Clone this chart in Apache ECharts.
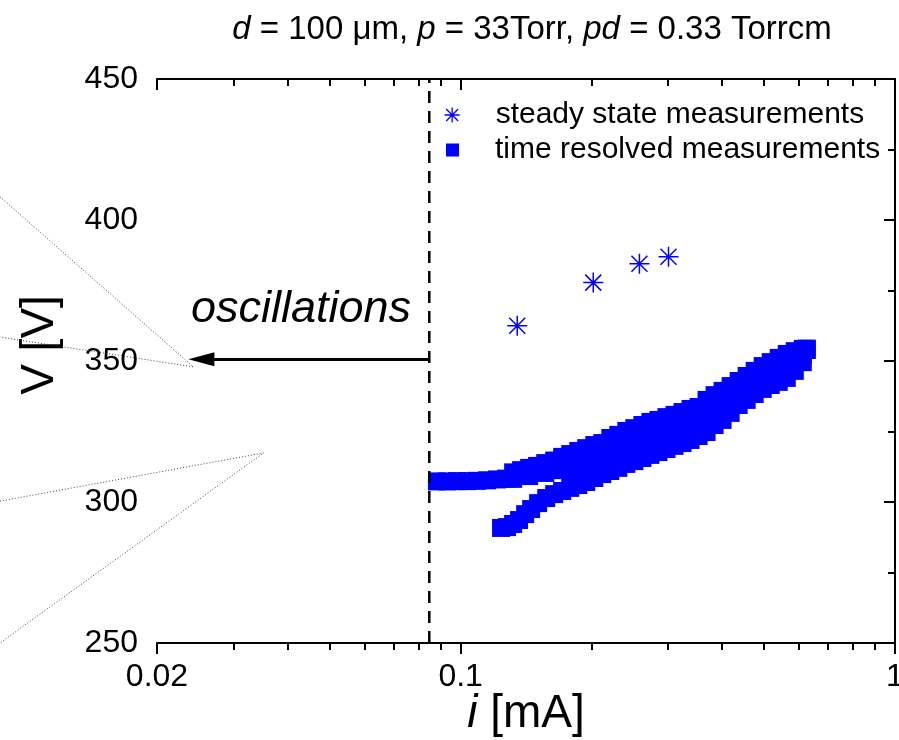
<!DOCTYPE html>
<html>
<head>
<meta charset="utf-8">
<script src="https://cdn.jsdelivr.net/npm/echarts@6/dist/echarts.min.js"></script>
<style>
html,body{margin:0;padding:0;background:#fff;}
#chart{width:899px;height:740px;}
</style>
</head>
<body>
<div id="chart"></div>
<script>
// ---------------- data ----------------
var xMajorTicks = [0.02, 0.1, 1];
var xMinorTicks = [0.03, 0.04, 0.05, 0.06, 0.07, 0.08, 0.09, 0.2, 0.3, 0.4, 0.5, 0.6, 0.7, 0.8, 0.9];
var yMin = 250, yMax = 450, yStep = 50;

var steadyCurrent = [0.135, 0.202, 0.258, 0.301];
var steadyVoltage = [362.5, 377.8, 384.5, 387.0];

// time resolved measurements (dense cloud, read as three tracks)
var trUpper = [
  [0.0882,307.3],[0.0930,307.3],[0.0981,307.4],[0.1034,307.4],[0.1091,307.5],[0.1151,307.7],
  [0.1213,308.0],[0.1273,308.3],[0.1321,310.5],[0.1378,311.3],[0.1438,312.1],[0.1500,312.8],
  [0.1566,313.8],[0.1642,314.7],[0.1713,316.0],[0.1788,317.0],[0.1866,318.1],[0.1946,319.1],
  [0.2031,320.2],[0.2119,320.9],[0.2211,322.7],[0.2307,323.8],[0.2407,325.2],[0.2512,326.2],
  [0.2621,327.3],[0.2735,328.4],[0.2854,329.1],[0.2978,330.1],[0.3107,330.9],[0.3242,331.9],
  [0.3383,333.0],[0.3530,333.7],[0.3683,336.2],[0.3843,337.9],[0.4009,339.4],[0.4184,341.1],
  [0.4365,342.9],[0.4555,344.7],[0.4753,346.5],[0.4959,348.2],[0.5175,349.6],[0.5399,351.1],
  [0.5634,352.5],[0.5879,353.5],[0.6133,354.3],[0.6265,354.4]
];
var trMiddle = [
  [0.1321,308.2],[0.1438,309.2],[0.1566,310.3],[0.1713,311.3],[0.1866,312.1],[0.2031,314.4],
  [0.2211,316.8],[0.2407,319.3],[0.2621,321.6],[0.2854,323.4],[0.3107,325.3],[0.3383,327.5],
  [0.3683,330.5],[0.4009,334.2],[0.4365,338.6],[0.4753,342.4],[0.5175,345.6],[0.5634,348.2],
  [0.6133,352.0]
];
var trLower = [
  [0.1239,290.8],[0.1279,291.1],[0.1321,292.2],[0.1363,293.6],[0.1408,295.7],[0.1453,297.5],
  [0.1508,299.6],[0.1574,301.4],[0.1642,302.8],[0.1713,303.9],[0.1788,305.0],[0.1866,306.0],
  [0.1946,307.1],[0.2031,308.5],[0.2119,309.9],[0.2211,311.0],[0.2307,312.1],[0.2407,313.5],
  [0.2512,314.5],[0.2621,315.6],[0.2735,316.7],[0.2854,317.7],[0.2978,318.8],[0.3107,319.9],
  [0.3242,320.9],[0.3383,322.0],[0.3530,323.4],[0.3683,324.8],[0.3843,327.3],[0.4009,329.1],
  [0.4184,331.6],[0.4365,334.4],[0.4555,336.2],[0.4753,338.3],[0.4959,340.1],[0.5175,341.5],
  [0.5399,342.6],[0.5634,344.0],[0.5879,346.5],[0.6133,349.6],[0.6265,353.9]
];

var oscillationLimit = 0.0847;   // dashed vertical line (mA)
var arrowVoltage = 350.6;
var arrowEnd = 0.0253;

// thin dotted pointer lines (leftovers of the original figure)
var pointerA = [[0.0087,408.2],[0.02426,347.9],[0.0087,358.5]];
var pointerB = [[0.0087,300.3],[0.03518,317.4],[0.0087,250.0]];

var titleText = '{i|d} = 100 \u03bcm, {i|p} = 33Torr, {i|pd} = 0.33 Torrcm';
var legendNames = ['steady state measurements', 'time resolved measurements'];

// ---------------- chart ----------------
var FONT = '"Liberation Sans", Arial, Helvetica, sans-serif';
var BLUE = '#0000ff';
var ASTER = 'path://M10,0L10,20M0,10L20,10M2,2L18,18M18,2L2,18';
var SQUARE = 'path://M0,0L10,0L10,10L0,10Z';
var logMin = Math.log10(xMajorTicks[0]), logMax = Math.log10(xMajorTicks[xMajorTicks.length - 1]);
var minorLog = xMinorTicks.map(function (v) { return Math.log10(v); });
var toLog = function (p) { return [Math.log10(p[0]), p[1]]; };
var trData = trUpper.concat(trMiddle, trLower);
var steadyData = steadyCurrent.map(function (c, k) { return [c, steadyVoltage[k]]; });

var chart = echarts.init(document.getElementById('chart'), null, {renderer: 'canvas'});
var grid = {left: 157, right: 4, top: 79, bottom: 97, containLabel: false, outerBoundsMode: 'none'};
var lineSty = {color: '#000', width: 2};
var legendText = {fontSize: 30, color: '#000', fontFamily: FONT, lineHeight: 30, padding: [0, 0, 0, 31]};

var baseGraphic = [
  {id: 'title', type: 'text', x: 532, y: 30, silent: true,
   style: {text: titleText, fill: '#000', font: '33px ' + FONT, align: 'center', verticalAlign: 'middle',
           rich: {i: {fontStyle: 'italic', fontSize: 33, fontFamily: FONT, fill: '#000'}}}},
  {id: 'osc', type: 'text', x: 301, y: 309, silent: true,
   style: {text: 'oscillations', fill: '#000', font: 'italic 45px ' + FONT, align: 'center', verticalAlign: 'middle'}}
];

chart.setOption({
  animation: false,
  backgroundColor: '#fff',
  textStyle: {fontFamily: FONT},
  grid: grid,
  legend: [
    {
      orient: 'vertical', left: 444, top: 100, padding: 0, itemWidth: 15, itemHeight: 15,
      textStyle: legendText,
      data: [{name: legendNames[0], icon: ASTER,
              itemStyle: {color: 'rgba(0,0,0,0)', borderColor: BLUE, borderWidth: 1.3, opacity: 1}}],
      selectedMode: false
    },
    {
      orient: 'vertical', left: 446, top: 135, padding: 0, itemWidth: 13, itemHeight: 13,
      textStyle: legendText,
      data: [{name: legendNames[1], icon: SQUARE, itemStyle: {color: BLUE, opacity: 1}}],
      selectedMode: false
    }
  ],
  xAxis: [
    { // data axis, bottom
      type: 'log', logBase: 10, min: xMajorTicks[0], max: xMajorTicks[2], position: 'bottom',
      name: '{it|i} [mA]', nameLocation: 'middle', nameGap: 48, nameMoveOverlap: false,
      nameTextStyle: {fontSize: 46, color: '#000', fontFamily: FONT, rich: {it: {fontSize: 46, fontStyle: 'italic', fontFamily: FONT, color: '#000'}}},
      axisLine: {show: true, lineStyle: lineSty},
      axisTick: {show: true, length: 11, lineStyle: lineSty},
      axisLabel: {fontSize: 32, color: '#000', margin: 18, fontFamily: FONT, hideOverlap: false,
                  formatter: function (v) { return String(+Number(v).toPrecision(3)); }},
      splitLine: {show: false}
    },
    { // minor ticks bottom (log10 space helper)
      type: 'value', min: logMin, max: logMax, position: 'bottom',
      axisLine: {show: false}, axisLabel: {show: false}, splitLine: {show: false},
      axisTick: {show: true, length: 7, customValues: minorLog, lineStyle: lineSty}
    },
    { // top mirror majors
      type: 'log', logBase: 10, min: xMajorTicks[0], max: xMajorTicks[2], position: 'top',
      axisLine: {show: true, lineStyle: lineSty}, axisLabel: {show: false}, splitLine: {show: false},
      axisTick: {show: true, inside: true, length: 11, lineStyle: lineSty}
    },
    { // top mirror minors
      type: 'value', min: logMin, max: logMax, position: 'top',
      axisLine: {show: false}, axisLabel: {show: false}, splitLine: {show: false},
      axisTick: {show: true, inside: true, length: 7, customValues: minorLog, lineStyle: lineSty}
    }
  ],
  yAxis: [
    {
      type: 'value', min: yMin, max: yMax, interval: yStep, position: 'left',
      name: 'V [V]', nameLocation: 'middle', nameGap: 94, nameRotate: 90, nameMoveOverlap: false,
      nameTextStyle: {fontSize: 46, color: '#000', fontFamily: FONT, padding: [0, 0, 0, 32]},
      axisLine: {show: true, lineStyle: lineSty},
      axisTick: {show: true, length: 11, lineStyle: lineSty},
      minorTick: {show: true, splitNumber: 2, length: 7, lineStyle: lineSty},
      axisLabel: {fontSize: 32, color: '#000', margin: 19, fontFamily: FONT},
      splitLine: {show: false}
    },
    {
      type: 'value', min: yMin, max: yMax, interval: yStep, position: 'right',
      axisLine: {show: true, lineStyle: lineSty},
      axisTick: {show: true, inside: true, length: 11, lineStyle: lineSty},
      minorTick: {show: true, splitNumber: 2, length: 7, lineStyle: lineSty},
      axisLabel: {show: false}, splitLine: {show: false}
    }
  ],
  graphic: baseGraphic,
  series: [
    {
      name: 'limit', type: 'line', symbol: 'none', silent: true,
      data: [[oscillationLimit, yMin], [oscillationLimit, yMax]],
      lineStyle: {color: '#000', width: 2.5, type: [12, 8]}, z: 3
    },
    {
      name: 'arrow', type: 'line', symbol: 'none', silent: true, data: [],
      markLine: {
        silent: true, symbol: ['none', 'triangle'], symbolSize: [14, 26],
        label: {show: false},
        lineStyle: {color: '#000', width: 3, type: 'solid'},
        data: [[{coord: [oscillationLimit, arrowVoltage]}, {coord: [arrowEnd, arrowVoltage]}]]
      }
    },
    {
      name: legendNames[1], type: 'scatter', data: trData, symbol: 'rect', symbolSize: 18,
      itemStyle: {color: BLUE, opacity: 1}, z: 2
    },
    {
      name: legendNames[0], type: 'scatter', data: steadyData, symbol: ASTER, symbolSize: 20,
      symbolKeepAspect: true,
      itemStyle: {color: 'rgba(0,0,0,0)', borderColor: BLUE, borderWidth: 1.5, opacity: 1}, z: 4
    }
  ]
});

// dotted pointer lines: projected through the log10 helper axis (may extend past the grid)
function project(pts) {
  return pts.map(function (p) {
    return chart.convertToPixel({xAxisIndex: 1, yAxisIndex: 0}, toLog(p));
  });
}
chart.setOption({
  graphic: baseGraphic.concat([
    {id: 'ptrA', type: 'polyline', silent: true, z: 1,
     shape: {points: project(pointerA)}, style: {stroke: '#444', lineWidth: 1, lineDash: [1, 2], fill: null}},
    {id: 'ptrB', type: 'polyline', silent: true, z: 1,
     shape: {points: project(pointerB)}, style: {stroke: '#444', lineWidth: 1, lineDash: [1, 2], fill: null}}
  ])
});
</script>
</body>
</html>
